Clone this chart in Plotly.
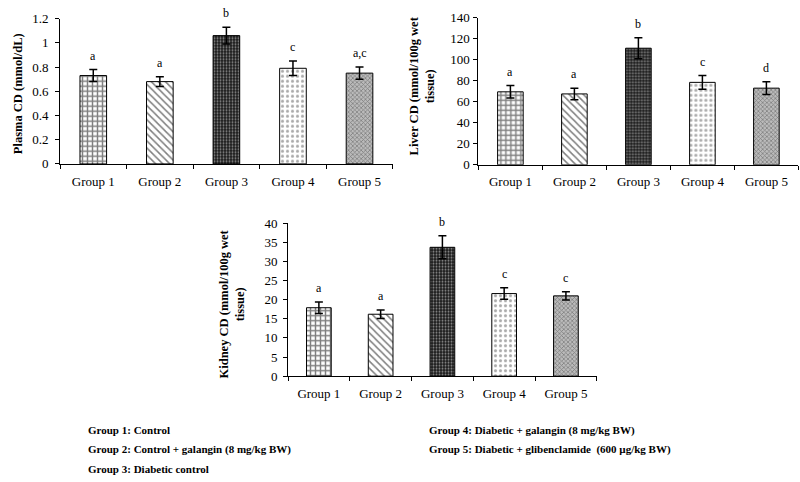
import plotly.graph_objects as go

groups = ["Group 1", "Group 2", "Group 3", "Group 4", "Group 5"]

plasma_mean = [0.73, 0.68, 1.06, 0.79, 0.75]
plasma_err = [0.05, 0.04, 0.07, 0.06, 0.05]
plasma_sig = ["a", "a", "b", "c", "a,c"]

liver_mean = [69.5, 67.5, 111, 78.5, 73]
liver_err = [6, 5.5, 10, 6.5, 6]
liver_sig = ["a", "a", "b", "c", "d"]

kidney_mean = [17.9, 16.2, 33.7, 21.6, 21.0]
kidney_err = [1.5, 1.1, 3.0, 1.5, 1.1]
kidney_sig = ["a", "a", "b", "c", "c"]

legend_left = ["Group 1: Control", "Group 2: Control + galangin (8 mg/kg BW)", "Group 3: Diabetic control"]
legend_right = ["Group 4: Diabetic + galangin (8 mg/kg BW)", "Group 5: Diabetic + glibenclamide  (600 µg/kg BW)"]

FONT = "Liberation Serif"

pat_shape = ["+", "\\", ".", ".", "x"]
pat_fg = ["black", "black", "white", "#555555", "#333333"]
pat_bg = ["white", "white", "#1a1a1a", "white", "#bbbbbb"]
pat_size = [5, 5, 3, 5, 3]
pat_sol = [0.5, 0.3, 0.35, 0.3, 0.4]

fig = go.Figure()

panels = [
    dict(mean=plasma_mean, err=plasma_err, sig=plasma_sig, xa="x", ya="y",
         xdom=[0.075, 0.491], ydom=[0.664, 0.975], rng=[0, 1.2], dt=0.2, so=4),
    dict(mean=liver_mean, err=liver_err, sig=liver_sig, xa="x2", ya="y2",
         xdom=[0.598, 0.998], ydom=[0.662, 0.977], rng=[0, 140], dt=20, so=1),
    dict(mean=kidney_mean, err=kidney_err, sig=kidney_sig, xa="x3", ya="y3",
         xdom=[0.36, 0.746], ydom=[0.2095, 0.537], rng=[0, 40], dt=5, so=3),
]

for i, p in enumerate(panels):
    for k, g in enumerate(groups):
        fig.add_trace(go.Bar(
            x=[g], y=[p["mean"][k]], xaxis=p["xa"], yaxis=p["ya"], width=0.4,
            marker=dict(color=pat_bg[k], line=dict(color="black", width=1),
                        pattern=dict(shape=pat_shape[k], fgcolor=pat_fg[k],
                                     size=pat_size[k], solidity=pat_sol[k],
                                     fillmode="overlay")),
            error_y=dict(type="data", array=[p["err"][k]], color="black",
                         thickness=1.5, width=4),
            showlegend=False,
        ))
        fig.add_annotation(x=g, y=p["mean"][k] + p["err"][k], xref=p["xa"], yref=p["ya"],
                           text=p["sig"][k], showarrow=False, yanchor="bottom", yshift=5,
                           font=dict(family=FONT, size=12, color="black"))
    suffix = "" if i == 0 else str(i + 1)
    fig.layout["xaxis" + suffix] = dict(
        domain=p["xdom"], anchor=p["ya"], showline=True, linecolor="black", linewidth=1,
        ticks="outside", ticklen=4, tickcolor="black", tickson="boundaries",
        categoryorder="array", categoryarray=groups,
        tickfont=dict(family=FONT, size=13, color="black"), showgrid=False,
        ticklabelstandoff=5, fixedrange=True)
    fig.layout["yaxis" + suffix] = dict(
        domain=p["ydom"], anchor=p["xa"], range=p["rng"], dtick=p["dt"],
        showline=True, linecolor="black", linewidth=1, ticks="outside", ticklen=4,
        tickcolor="black", tickfont=dict(family=FONT, size=13, color="black"),
        ticklabelstandoff=p["so"],
        showgrid=False, zeroline=False, fixedrange=True)

fig.update_layout(barmode="overlay")

# y-axis titles
titles = [
    ("<b>Plasma CD (mmol/dL)</b>", 18, 1 - 90 / 482),
    ("<b>Liver CD (mmol/100g wet<br>tissue)</b>", 422, 1 - 82 / 482),
    ("<b>Kidney CD (mmol/100g wet<br>tissue)</b>", 232, 1 - 306 / 482),
]
for t, xp, yp in titles:
    fig.add_annotation(text=t, x=xp / 800, y=yp, xref="paper", yref="paper",
                       textangle=-90, showarrow=False, xanchor="center", yanchor="middle",
                       font=dict(family=FONT, size=12.5, color="black"))

# group legend text
for j, t in enumerate(legend_left):
    fig.add_annotation(text="<b>" + t + "</b>", x=86 / 800, y=1 - (437 + 20 * j) / 482,
                       xref="paper", yref="paper", showarrow=False,
                       xanchor="left", yanchor="middle",
                       font=dict(family=FONT, size=11, color="black"))
for j, t in enumerate(legend_right):
    fig.add_annotation(text="<b>" + t + "</b>", x=427 / 800, y=1 - (437 + 20 * j) / 482,
                       xref="paper", yref="paper", showarrow=False,
                       xanchor="left", yanchor="middle",
                       font=dict(family=FONT, size=11, color="black"))

fig.update_layout(width=800, height=482, margin=dict(l=0, r=0, t=0, b=0),
                  plot_bgcolor="white", paper_bgcolor="white")

fig.write_html("out.html", config={"displayModeBar": False},
               post_script="document.body.style.margin='0';")
